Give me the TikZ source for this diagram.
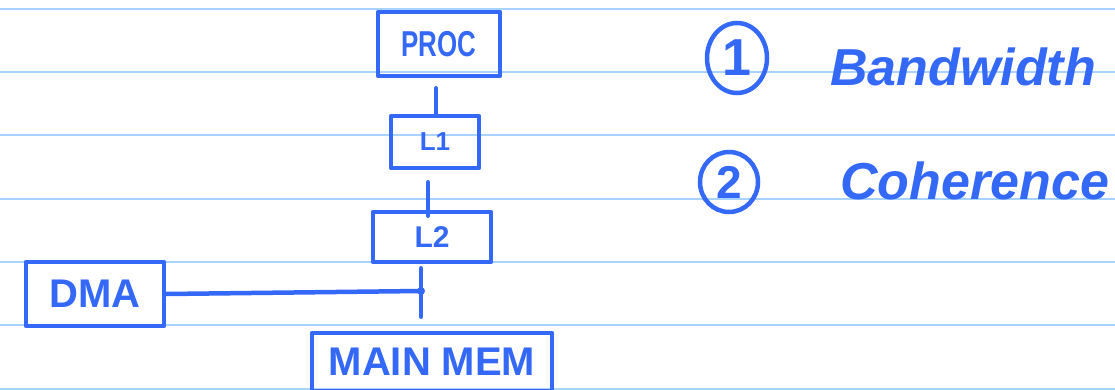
\documentclass[tikz,border=0pt]{standalone}
\usepackage{fontspec}
\setmainfont{Liberation Sans}
\usetikzlibrary{shapes.geometric}
\definecolor{ink}{RGB}{52,104,246}
\definecolor{rule}{RGB}{168,210,255}
\begin{document}
\begin{tikzpicture}[x=1pt,y=-1pt,
  box/.style={draw=ink,line width=4.5pt,rectangle,inner sep=0pt,text=ink,line join=round,font=\bfseries},
  wire/.style={draw=ink,line width=4.5pt,line cap=round},
  ruling/.style={draw=rule,line width=2pt},
  numring/.style={draw=ink,line width=4.5pt,ellipse,inner sep=0pt,text=ink,font=\bfseries},
  label/.style={text=ink,inner sep=0pt,anchor=base west,font=\bfseries\itshape}]
\useasboundingbox (0,0) rectangle (1115,390);
\fill[white] (0,0) rectangle (1115,390);
\foreach \yy in {9,72,135,199,262,325,389}
  \draw[ruling] (0,\yy) -- (1115,\yy);
% boxes
\node[box,minimum width=122pt,minimum height=64pt] (proc) at (439,44) {\fontsize{36}{36}\selectfont\scalebox{0.72}[1]{PROC}};
\node[box,minimum width=88pt,minimum height=52pt] (l1) at (435,142) {\fontsize{26}{26}\selectfont L1};
\node[box,minimum width=118pt,minimum height=50pt] (l2) at (432,237) {\fontsize{30}{30}\selectfont L2};
\node[box,minimum width=138pt,minimum height=64pt] (dma) at (95,294) {\fontsize{40}{40}\selectfont DMA};
\node[box,minimum width=240pt,minimum height=58pt] (mem) at (432,362) {\fontsize{40}{40}\selectfont MAIN MEM};
% connectors
\coordinate (a) at (436,0);
\coordinate (b) at (428,0);
\coordinate (j) at (421,291);
\draw[wire,shorten <=10pt,shorten >=-2pt] (proc.south -| a) -- (l1.north -| a);
\draw[wire,shorten <=12pt,shorten >=-6pt] (l1.south -| b) -- (l2.north -| b);
\draw[wire,shorten <=4pt,shorten >=14pt] (l2.south -| j) -- (mem.north -| j);
\draw[wire] (dma.east) -- (j);
\fill[ink] (j) circle (4pt);
% right-hand list
\node[numring,minimum width=60pt,minimum height=70pt] (c1) at (737,58) {\fontsize{52}{52}\selectfont 1};
\node[numring,minimum width=58pt,minimum height=60pt] (c2) at (729,182) {\fontsize{46}{46}\selectfont 2};
\node[label] (bw) at (830,86) {\fontsize{52}{52}\selectfont Bandwidth};
\node[label] (coh) at (840,200) {\fontsize{52}{52}\selectfont Coherence};
\end{tikzpicture}
\end{document}
